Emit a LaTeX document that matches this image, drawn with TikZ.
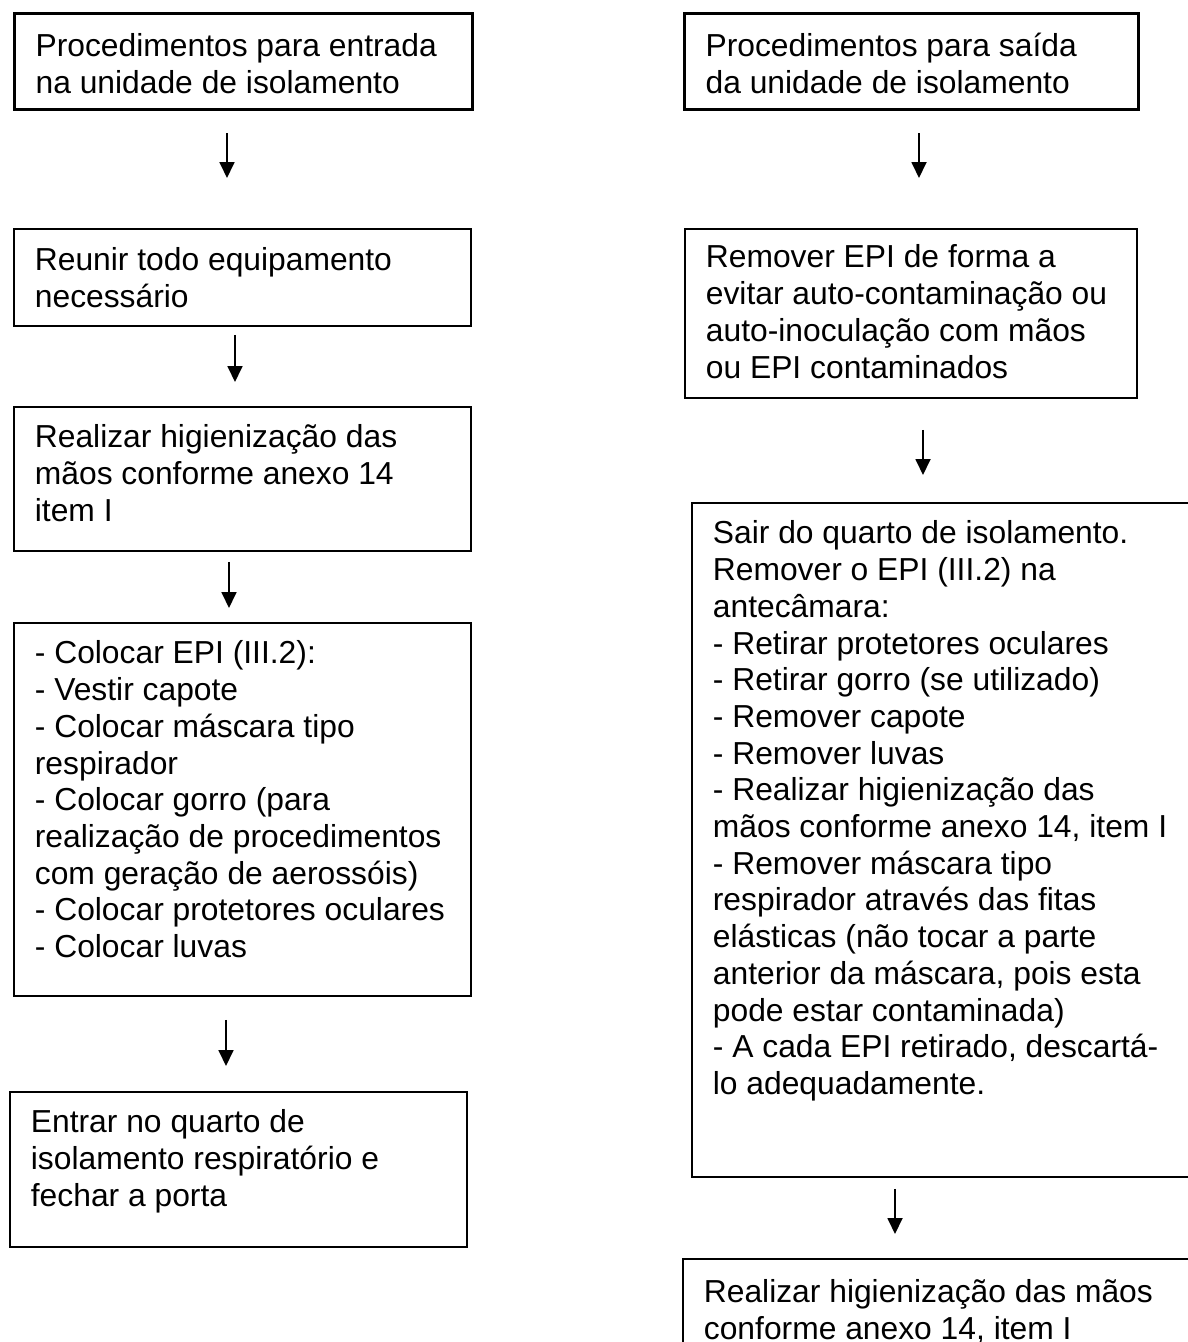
\documentclass[tikz,border=0pt]{standalone}
\usepackage{fontspec}
\setmainfont{Liberation Sans}
\usetikzlibrary{arrows.meta}

% top-aligned body of a step box: width, height, lines
\newcommand\flowtext[3]{\parbox[t][#2][t]{#1}{\raggedright\strut #3}}

\begin{document}
\begin{tikzpicture}[x=1pt, y=-1pt,
  stepbox/.style={draw=black, line width=1.8pt, rectangle, anchor=north west,
    inner xsep=21pt, font=\fontsize{31.8}{36.7}\selectfont},
  headbox/.style={stepbox, line width=3.2pt},
  flow/.style={draw=black, line width=1.8pt, -{Triangle[length=16pt,width=15pt]}}]

\useasboundingbox (0,0) rectangle (1188,1342);
\clip (0,0) rectangle (1188,1342);

% left column: entering the isolation unit
\node[headbox, inner ysep=17.31pt] (b1) at (13,12)
  {\flowtext{416pt}{61.38pt}{Procedimentos para entrada\\na unidade de isolamento}};
\node[stepbox, inner ysep=16.31pt] (b2) at (13,228)
  {\flowtext{415pt}{64.38pt}{Reunir todo equipamento\\necessário}};
\node[stepbox, inner ysep=15.31pt] (b3) at (13,406)
  {\flowtext{415pt}{113.38pt}{Realizar higienização das\\mãos conforme anexo 14\\item I}};
\node[stepbox, inner ysep=15.31pt] (b4) at (13,622)
  {\flowtext{415pt}{342.38pt}{- Colocar EPI (III.2):\\- Vestir capote\\- Colocar máscara tipo\\respirador\\- Colocar gorro (para\\realização de procedimentos\\com geração de aerossóis)\\- Colocar protetores oculares\\- Colocar luvas}};
\node[stepbox, inner ysep=15.31pt] (b5) at (9,1091)
  {\flowtext{415pt}{124.38pt}{Entrar no quarto de\\isolamento respiratório e\\fechar a porta}};

% right column: leaving the isolation unit
\node[headbox, inner ysep=17.31pt] (r1) at (683,12)
  {\flowtext{412pt}{61.38pt}{Procedimentos para saída\\da unidade de isolamento}};
\node[stepbox, inner ysep=13.31pt] (r2) at (684,228)
  {\flowtext{410pt}{142.38pt}{Remover EPI de forma a\\evitar auto-contaminação ou\\auto-inoculação com mãos\\ou EPI contaminados}};
\node[stepbox, inner ysep=15.31pt] (r3) at (691,502)
  {\flowtext{488pt}{643.38pt}{Sair do quarto de isolamento.\\Remover o EPI (III.2) na\\antecâmara:\\- Retirar protetores oculares\\- Retirar gorro (se utilizado)\\- Remover capote\\- Remover luvas\\- Realizar higienização das\\mãos conforme anexo 14, item I\\- Remover máscara tipo\\respirador através das fitas\\elásticas (não tocar a parte\\anterior da máscara, pois esta\\pode estar contaminada)\\- A cada EPI retirado, descartá-\\lo adequadamente.}};
\node[stepbox, inner ysep=18.31pt] (r4) at (682,1258)
  {\flowtext{498pt}{103.38pt}{Realizar higienização das mãos\\conforme anexo 14, item I}};

% connectors
\draw[flow, shorten <=22pt, shorten >=50pt] ([xshift=214pt]b1.south west) -- ([xshift=214pt]b1.south west |- b2.north);
\draw[flow, shorten <=8pt, shorten >=24pt] ([xshift=222pt]b2.south west) -- ([xshift=222pt]b2.south west |- b3.north);
\draw[flow, shorten <=10pt, shorten >=14pt] ([xshift=216pt]b3.south west) -- ([xshift=216pt]b3.south west |- b4.north);
\draw[flow, shorten <=23pt, shorten >=25pt] ([xshift=213pt]b4.south west) -- ([xshift=213pt]b4.south west |- b5.north);

\draw[flow, shorten <=22pt, shorten >=50pt] ([xshift=236pt]r1.south west) -- ([xshift=236pt]r1.south west |- r2.north);
\draw[flow, shorten <=31pt, shorten >=27pt] ([xshift=239pt]r2.south west) -- ([xshift=239pt]r2.south west |- r3.north);
\draw[flow, shorten <=11pt, shorten >=24pt] ([xshift=204pt]r3.south west) -- ([xshift=204pt]r3.south west |- r4.north);
\end{tikzpicture}
\end{document}
